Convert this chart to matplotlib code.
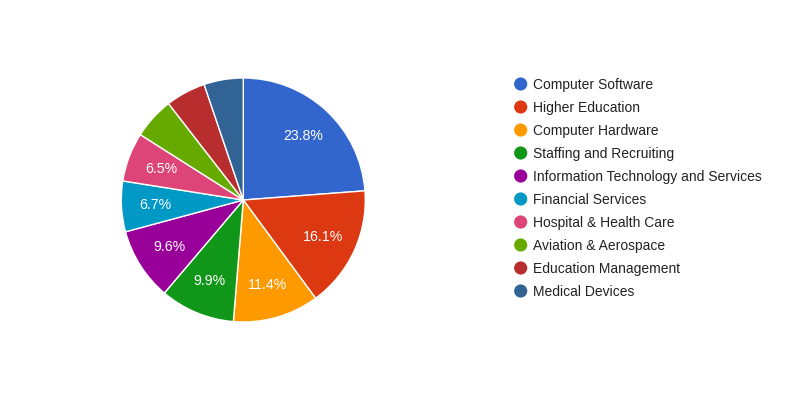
import matplotlib.pyplot as plt

plt.rcParams['font.family'] = ['Liberation Sans', 'DejaVu Sans']

# industries and their share (%)
industries = ['Computer Software', 'Higher Education', 'Computer Hardware',
              'Staffing and Recruiting', 'Information Technology and Services',
              'Financial Services', 'Hospital & Health Care',
              'Aviation & Aerospace', 'Education Management', 'Medical Devices']
shares = [23.8, 16.1, 11.4, 9.9, 9.6, 6.7, 6.5, 5.5, 5.3, 5.2]
colors = ['#3366cc', '#dc3912', '#ff9900', '#109618', '#990099',
          '#0099c6', '#dd4477', '#66aa00', '#b82e2e', '#316395']

W, H = 803, 397
fig = plt.figure(figsize=(W / 100, H / 100), dpi=100)

# pie: center (243, 200) px, radius 122 px
cx, cy, r = 243.3, 200, 122
ax = fig.add_axes([(cx - r) / W, (H - cy - r) / H, 2 * r / W, 2 * r / H])
wedges, texts, autotexts = ax.pie(
    shares, colors=colors, startangle=90, counterclock=False,
    autopct=lambda p: f'{p:.1f}%' if p > 6 else '', pctdistance=0.72,
    wedgeprops=dict(edgecolor='white', linewidth=1),
    textprops=dict(color='white', fontsize=10.2))
ax.set_xlim(-1, 1)
ax.set_ylim(-1, 1)
ax.set_aspect('equal')

# legend drawn in pixel coordinates
lax = fig.add_axes([0, 0, 1, 1])
lax.set_xlim(0, W)
lax.set_ylim(H, 0)
lax.axis('off')
for i, (name, c) in enumerate(zip(industries, colors)):
    y = 84 + i * 23
    lax.scatter([520.7], [y], s=90, color=c, edgecolors='none')
    lax.text(533, y + 1, name, fontsize=10, color='#222222',
             va='center', ha='left')

fig.savefig('out.png', dpi=100)
